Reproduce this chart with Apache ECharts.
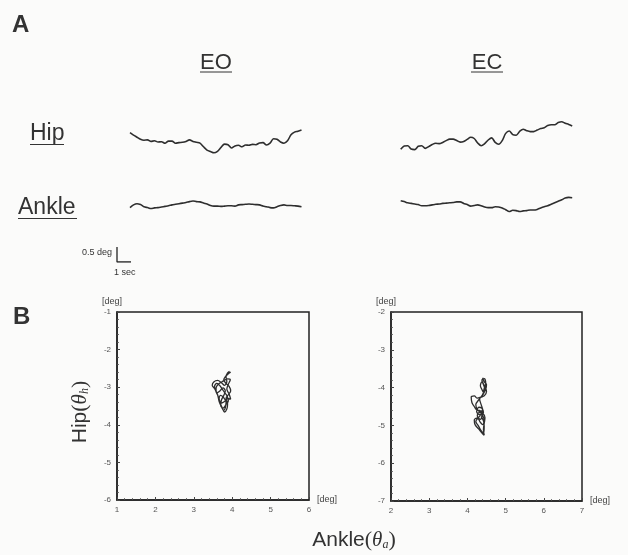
<!DOCTYPE html>
<html>
<head>
<meta charset="utf-8">
<script src="https://cdn.jsdelivr.net/npm/echarts@6/dist/echarts.min.js"></script>
<style>
html,body{margin:0;padding:0;background:#fbfbfa;}
#chart{width:628px;height:555px;}
</style>
</head>
<body>
<div id="chart"></div>
<script>
// ---- Panel A: time traces (sample interval 0.25 s), values in deg (relative) ----
const time = [0,0.25,0.5,0.75,1,1.25,1.5,1.75,2,2.25,2.5,2.75,3,3.25,3.5,3.75,4,4.25,4.5,4.75,5,5.25,5.5,5.75,6,6.25,6.5,6.75,7,7.25,7.5,7.75,8,8.25,8.5,8.75,9,9.25,9.5,9.75,10,10.25,10.5,10.75,11,11.25,11.5,11.75,12,12.25];
const eoHipTrace = [-0.09,-0.17,-0.24,-0.31,-0.34,-0.33,-0.38,-0.36,-0.40,-0.39,-0.44,-0.37,-0.37,-0.44,-0.42,-0.41,-0.38,-0.33,-0.38,-0.41,-0.44,-0.56,-0.67,-0.72,-0.76,-0.71,-0.58,-0.47,-0.49,-0.60,-0.53,-0.51,-0.56,-0.50,-0.51,-0.48,-0.49,-0.43,-0.42,-0.50,-0.44,-0.29,-0.31,-0.40,-0.44,-0.36,-0.16,-0.07,-0.04,0.00];
const eoAnkleTrace = [-0.03,0.06,0.10,0.07,0.00,-0.03,-0.06,-0.04,-0.03,-0.01,0.01,0.03,0.06,0.08,0.10,0.12,0.14,0.17,0.19,0.17,0.16,0.12,0.09,0.04,0.02,0.02,0.01,0.02,0.03,0.03,0.02,0.06,0.07,0.08,0.09,0.08,0.07,0.06,0.02,0.00,-0.03,-0.04,0.00,0.04,0.06,0.04,0.04,0.03,0.02,0.00];
const ecHipTrace = [0.00,0.11,0.12,0.01,-0.01,0.10,0.12,0.03,0.09,0.16,0.20,0.19,0.23,0.29,0.34,0.34,0.29,0.24,0.26,0.33,0.40,0.36,0.21,0.12,0.19,0.31,0.38,0.23,0.17,0.29,0.53,0.61,0.49,0.47,0.60,0.67,0.62,0.59,0.59,0.64,0.69,0.72,0.79,0.82,0.82,0.89,0.92,0.87,0.83,0.78];
const ecAnkleTrace = [0.00,-0.03,-0.07,-0.09,-0.11,-0.13,-0.17,-0.17,-0.16,-0.14,-0.12,-0.11,-0.09,-0.08,-0.07,-0.06,-0.04,-0.04,-0.09,-0.13,-0.18,-0.16,-0.14,-0.17,-0.21,-0.23,-0.23,-0.20,-0.21,-0.24,-0.30,-0.36,-0.32,-0.33,-0.36,-0.34,-0.33,-0.31,-0.31,-0.29,-0.24,-0.20,-0.17,-0.12,-0.07,-0.02,0.03,0.09,0.11,0.10];

// scale bar: 1 sec horizontal, 0.5 deg vertical
const scaleBarSec = [0, 0, 1];
const scaleBarDeg = [0.5, 0, 0];

// ---- Panel B: hip vs ankle phase plots (deg) ----
const eoAnkle = [3.93,3.88,3.84,3.86,3.80,3.72,3.62,3.52,3.48,3.55,3.62,3.66,3.72,3.78,3.82,3.84,3.78,3.70,3.66,3.72,3.80,3.88,3.96,3.92,3.86,3.90,3.95,3.88,3.76,3.64,3.58,3.60,3.68,3.76,3.82,3.78,3.72,3.70,3.76,3.84,3.90,3.86,3.80,
                 3.74,3.68,3.60,3.54,3.58,3.64,3.68,3.74,3.80,3.86,3.88,3.84,3.90,3.96,3.92,3.84,3.78,3.84,3.90,3.96];
const eoHip   = [-2.58,-2.62,-2.72,-2.85,-2.95,-2.88,-2.82,-2.86,-2.95,-3.05,-3.20,-3.38,-3.52,-3.62,-3.55,-3.40,-3.28,-3.22,-3.30,-3.42,-3.38,-3.30,-3.32,-3.18,-3.05,-2.92,-2.80,-2.78,-2.84,-2.92,-3.02,-3.15,-3.10,-3.02,-3.10,-3.22,-3.34,-3.48,-3.56,-3.46,-3.36,-3.22,-3.14,
                 -3.05,-2.96,-2.90,-2.98,-3.12,-3.26,-3.40,-3.55,-3.66,-3.58,-3.44,-3.30,-3.20,-3.10,-2.98,-2.90,-2.80,-2.70,-2.64,-2.60];
const ecAnkle = [4.40,4.44,4.50,4.48,4.42,4.38,4.34,4.38,4.46,4.50,4.44,4.36,4.26,4.18,4.10,4.12,4.18,4.24,4.30,4.38,4.42,4.36,4.28,4.24,4.32,4.40,4.44,4.40,4.34,4.26,4.18,4.20,4.30,4.40,4.44,4.42,4.44,4.46,4.40,4.30,4.26,4.34,
                 4.40,4.36,4.32,4.40,4.46,4.42,4.38,4.44,4.48,4.44,4.40,4.30,4.22,4.26,4.34,4.40,4.36,4.30,4.22,4.28,4.36,4.42,4.44,4.42,4.36];
const ecHip   = [-3.74,-3.85,-3.92,-4.05,-4.12,-4.05,-3.95,-3.85,-3.98,-4.10,-4.22,-4.25,-4.28,-4.22,-4.25,-4.40,-4.50,-4.58,-4.52,-4.55,-4.65,-4.72,-4.70,-4.62,-4.60,-4.74,-4.86,-4.98,-4.92,-4.80,-4.86,-4.98,-5.10,-5.22,-5.26,-5.10,-4.95,-4.80,-4.68,-4.66,-4.75,-4.84,
                 -4.60,-4.45,-4.30,-4.20,-4.05,-3.92,-3.80,-3.76,-3.90,-4.02,-4.18,-4.32,-4.45,-4.58,-4.64,-4.58,-4.70,-4.78,-4.90,-5.00,-5.14,-5.20,-5.02,-4.88,-4.76];

const eoXTicks = [1,2,3,4,5,6];
const eoYTicks = [-6,-5,-4,-3,-2,-1];
const ecXTicks = [2,3,4,5,6,7];
const ecYTicks = [-7,-6,-5,-4,-3,-2];

function pairs(a, b){ return a.map((v,i)=>[v, b[i]]); }

const FONT = '"Liberation Sans", Arial, sans-serif';
const INK = '#2e2e2e';

function traceX(g){ return {gridIndex:g, type:'value', min:0, max:12.25, show:false}; }
function traceY(g){ return {gridIndex:g, type:'value', min:-1, max:1, show:false}; }

function phaseX(g, ticks){
  return {gridIndex:g, type:'value', min:ticks[0], max:ticks[ticks.length-1], interval:1,
    axisLine:{show:true, onZero:false, lineStyle:{color:'#222', width:1.5}},
    axisTick:{show:true, inside:true, length:3, lineStyle:{color:'#444', width:1}},
    minorTick:{show:true, splitNumber:5, length:2, lineStyle:{color:'#555', width:0.8}},
    axisLabel:{fontSize:8, color:'#555', margin:6, fontFamily:FONT},
    splitLine:{show:false},
    name:'[deg]', nameLocation:'end', nameGap:8,
    nameTextStyle:{fontSize:9, color:'#444', fontFamily:FONT}
  };
}
function phaseY(g, ticks){
  return {gridIndex:g, type:'value', min:ticks[0], max:ticks[ticks.length-1], interval:1,
    axisLine:{show:true, onZero:false, lineStyle:{color:'#222', width:1.5}},
    axisTick:{show:true, inside:true, length:3, lineStyle:{color:'#444', width:1}},
    minorTick:{show:true, splitNumber:5, length:2, lineStyle:{color:'#555', width:0.8}},
    axisLabel:{fontSize:8, color:'#555', margin:6, fontFamily:FONT},
    splitLine:{show:false},
    name:'[deg]', nameLocation:'end', nameGap:6,
    nameTextStyle:{fontSize:9, color:'#444', fontFamily:FONT, align:'center', padding:[0,10,0,0]}
  };
}

const traceLine = {color:INK, width:1.6};
const loopLine = {color:INK, width:1.3};

const option = {
  backgroundColor:'#fbfbfa',
  animation:false,
  grid:[
    {left:130, top:100, width:171.5, height:60},
    {left:130, top:176.7, width:171.5, height:60},
    {left:400.7, top:119.3, width:171.5, height:60},
    {left:400.7, top:170.7, width:171.5, height:60},
    {left:117, top:247, width:14, height:15},
    {left:117, top:312, width:192, height:188, show:true, borderColor:'#222', borderWidth:1.5},
    {left:391, top:312, width:191, height:189, show:true, borderColor:'#222', borderWidth:1.5}
  ],
  xAxis:[traceX(0), traceX(1), traceX(2), traceX(3),
    {gridIndex:4, type:'value', min:0, max:1, show:false},
    phaseX(5, eoXTicks), phaseX(6, ecXTicks)],
  yAxis:[traceY(0), traceY(1), traceY(2), traceY(3),
    {gridIndex:4, type:'value', min:0, max:0.5, show:false},
    phaseY(5, eoYTicks), phaseY(6, ecYTicks)],
  series:[
    {type:'line', xAxisIndex:0, yAxisIndex:0, data:pairs(time, eoHipTrace), showSymbol:false, smooth:0.3, lineStyle:traceLine},
    {type:'line', xAxisIndex:1, yAxisIndex:1, data:pairs(time, eoAnkleTrace), showSymbol:false, smooth:0.3, lineStyle:traceLine},
    {type:'line', xAxisIndex:2, yAxisIndex:2, data:pairs(time, ecHipTrace), showSymbol:false, smooth:0.3, lineStyle:traceLine},
    {type:'line', xAxisIndex:3, yAxisIndex:3, data:pairs(time, ecAnkleTrace), showSymbol:false, smooth:0.3, lineStyle:traceLine},
    {type:'line', xAxisIndex:4, yAxisIndex:4, data:pairs(scaleBarSec, scaleBarDeg), showSymbol:false, lineStyle:{color:'#222', width:1.3}},
    {type:'line', xAxisIndex:5, yAxisIndex:5, data:pairs(eoAnkle, eoHip), showSymbol:false, smooth:0.35, lineStyle:loopLine},
    {type:'line', xAxisIndex:6, yAxisIndex:6, data:pairs(ecAnkle, ecHip), showSymbol:false, smooth:0.35, lineStyle:loopLine}
  ],
  graphic:[
    {type:'text', x:12, y:25, style:{text:'A', font:'bold 24px '+FONT, fill:'#333', verticalAlign:'middle'}},
    {type:'text', x:13, y:317, style:{text:'B', font:'bold 24px '+FONT, fill:'#333', verticalAlign:'middle'}},
    {type:'text', x:216, y:63, style:{text:'EO', font:'22px '+FONT, fill:'#333', align:'center', verticalAlign:'middle'}},
    {type:'line', shape:{x1:200, y1:72, x2:232, y2:72}, style:{stroke:'#333', lineWidth:1}},
    {type:'text', x:487, y:63, style:{text:'EC', font:'22px '+FONT, fill:'#333', align:'center', verticalAlign:'middle'}},
    {type:'line', shape:{x1:471, y1:72, x2:503, y2:72}, style:{stroke:'#333', lineWidth:1}},
    {type:'text', x:30, y:134, style:{text:'Hip', font:'23px '+FONT, fill:'#333', verticalAlign:'middle'}},
    {type:'line', shape:{x1:30, y1:144.5, x2:64, y2:144.5}, style:{stroke:'#333', lineWidth:1}},
    {type:'text', x:18, y:208, style:{text:'Ankle', font:'23px '+FONT, fill:'#333', verticalAlign:'middle'}},
    {type:'line', shape:{x1:18, y1:218.5, x2:77, y2:218.5}, style:{stroke:'#333', lineWidth:1}},
    {type:'text', x:112, y:253, style:{text:'0.5 deg', font:'9px '+FONT, fill:'#333', align:'right', verticalAlign:'middle'}},
    {type:'text', x:114, y:273, style:{text:'1 sec', font:'9px '+FONT, fill:'#333', verticalAlign:'middle'}},
    {type:'text', x:354, y:540, style:{
      text:'Ankle{p|(}{t|θ}{s|a}{p|)}', font:'21px '+FONT, fill:'#333', align:'center', verticalAlign:'middle',
      rich:{
        p:{fontFamily:'"Liberation Serif", serif', fontSize:22, fill:'#333'},
        t:{fontFamily:'"Liberation Serif", serif', fontStyle:'italic', fontSize:21, fill:'#333'},
        s:{fontFamily:'"Liberation Serif", serif', fontStyle:'italic', fontSize:12, fill:'#333', padding:[10,0,0,0]}
      }}},
    {type:'text', x:80, y:412, rotation:Math.PI/2, style:{
      text:'Hip{p|(}{t|θ}{s|h}{p|)}', font:'21px '+FONT, fill:'#333', align:'center', verticalAlign:'middle',
      rich:{
        p:{fontFamily:'"Liberation Serif", serif', fontSize:22, fill:'#333'},
        t:{fontFamily:'"Liberation Serif", serif', fontStyle:'italic', fontSize:21, fill:'#333'},
        s:{fontFamily:'"Liberation Serif", serif', fontStyle:'italic', fontSize:12, fill:'#333', padding:[10,0,0,0]}
      }}}
  ]
};

const chart = echarts.init(document.getElementById('chart'), null, {renderer:'canvas'});
chart.setOption(option);
</script>
</body>
</html>
